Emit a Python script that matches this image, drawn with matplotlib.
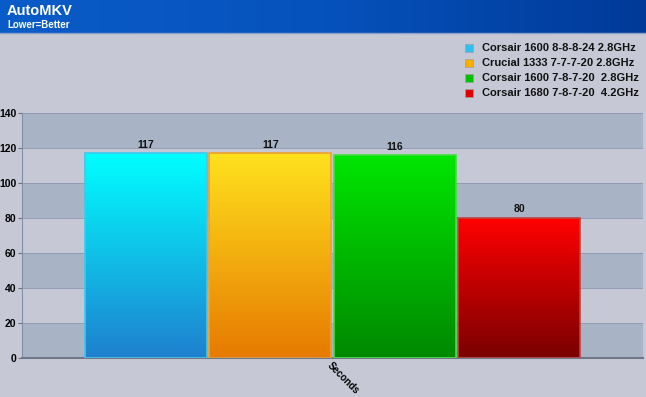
import numpy as np
import matplotlib
matplotlib.use("Agg")
import matplotlib.pyplot as plt
from matplotlib.colors import LinearSegmentedColormap
from matplotlib.patches import Rectangle

plt.rcParams["font.family"] = ["Liberation Sans", "DejaVu Sans"]

title = "AutoMKV"
subtitle = "Lower=Better"
category = "Seconds"
series = ["Corsair 1600 8-8-8-24 2.8GHz", "Crucial 1333 7-7-7-20 2.8GHz",
          "Corsair 1600 7-8-7-20  2.8GHz", "Corsair 1680 7-8-7-20  4.2GHz"]
values = [117, 117, 116, 80]
yticks = [0, 20, 40, 60, 80, 100, 120, 140]

tops = ["#00ffff", "#ffe21e", "#00e600", "#ff0000"]
bottoms = ["#1f80cf", "#e67a00", "#008800", "#7a0000"]
edges = ["#3ec8f0", "#f0a030", "#40e040", "#c04040"]
legend_cols = ["#30c0f0", "#f8b000", "#00c000", "#e00000"]

BG = "#c6c9d5"
BAND = "#a9b3c6"

fig = plt.figure(figsize=(6.46, 3.97), dpi=100)
fig.patch.set_facecolor(BG)

# title bar
tax = fig.add_axes([0, 1 - 33/397, 1, 33/397])
grad = np.linspace(0, 1, 256).reshape(1, -1)
tcm = LinearSegmentedColormap.from_list("t", ["#0a5cc8", "#0652bc", "#003a98"])
tax.imshow(grad, aspect="auto", cmap=tcm, extent=[0, 1, 0, 1])
tax.set_xlim(0, 1); tax.set_ylim(0, 1); tax.axis("off")
tax.text(7/646, 0.66, title, color="white", fontsize=10.5, fontweight="bold", va="center", ha="left")
tax.text(7/646, 0.25, subtitle, color="white", fontsize=7, fontweight="bold", va="center", ha="left")
fig.add_artist(plt.Line2D([0, 1], [1 - 33/397, 1 - 33/397], color="#8aa0c8", lw=1))

ax = fig.add_axes([22/646, 39/397, 621/646, 245/397])
ax.set_facecolor(BG)
for i in range(0, 140, 40):
    ax.axhspan(i, i + 20, color=BAND, zorder=0, lw=0)
ax.axhspan(120, 140, color=BAND, zorder=0, lw=0)
for y in yticks:
    ax.axhline(y, color="#8c98b0", lw=0.6, zorder=0.5)

n = len(values)
step = 124.3/621
w = 122/621
x0 = -n * step / 2
for i, (v, t, b, e) in enumerate(zip(values, tops, bottoms, edges)):
    left = x0 + i * step + (step - w) / 2
    cm = LinearSegmentedColormap.from_list(f"c{i}", [b, t])
    g = np.linspace(0, 1, 256).reshape(-1, 1)
    ax.imshow(g, aspect="auto", cmap=cm, origin="lower",
              extent=[left, left + w, 0, v], zorder=2)
    rect = Rectangle((left, 0), w, v, fill=False, edgecolor=e, lw=1.2, zorder=3)
    ax.add_patch(rect)
    ax.text(left + w/2, v + 2, str(v), ha="center", va="bottom", fontsize=7.5,
            fontweight="bold", color="#111111", zorder=4)

ax.set_xlim(-0.5, 0.5)
ax.set_ylim(0, 140)
ax.set_yticks(yticks)
ax.set_yticklabels([str(y) for y in yticks], fontsize=7.5, fontweight="bold")
ax.tick_params(axis="y", length=3, pad=1, color="#707070")
ax.set_xticks([0])
ax.set_xticklabels([category], rotation=-45, ha="left", va="top", fontsize=7,
                   fontweight="bold", rotation_mode="anchor")
ax.tick_params(axis="x", length=0, pad=2)
for s in ["top", "right"]:
    ax.spines[s].set_visible(False)
ax.spines["left"].set_color("#8090a8")
ax.spines["bottom"].set_color("#707888")
ax.spines["bottom"].set_linewidth(1.5)

# legend
for i, (lab, c) in enumerate(zip(series, legend_cols)):
    yy = 1 - (48 + 15 * i) / 397
    fig.add_artist(Rectangle((465/646, yy - 4/397), 8/646, 8/397, facecolor=c,
                             edgecolor="#a0a0a0", lw=0.5, transform=fig.transFigure))
    fig.text(482/646, yy, lab, fontsize=8, fontweight="bold", va="center", ha="left", color="#111111")

fig.savefig("out.png", dpi=100, facecolor=fig.get_facecolor())
